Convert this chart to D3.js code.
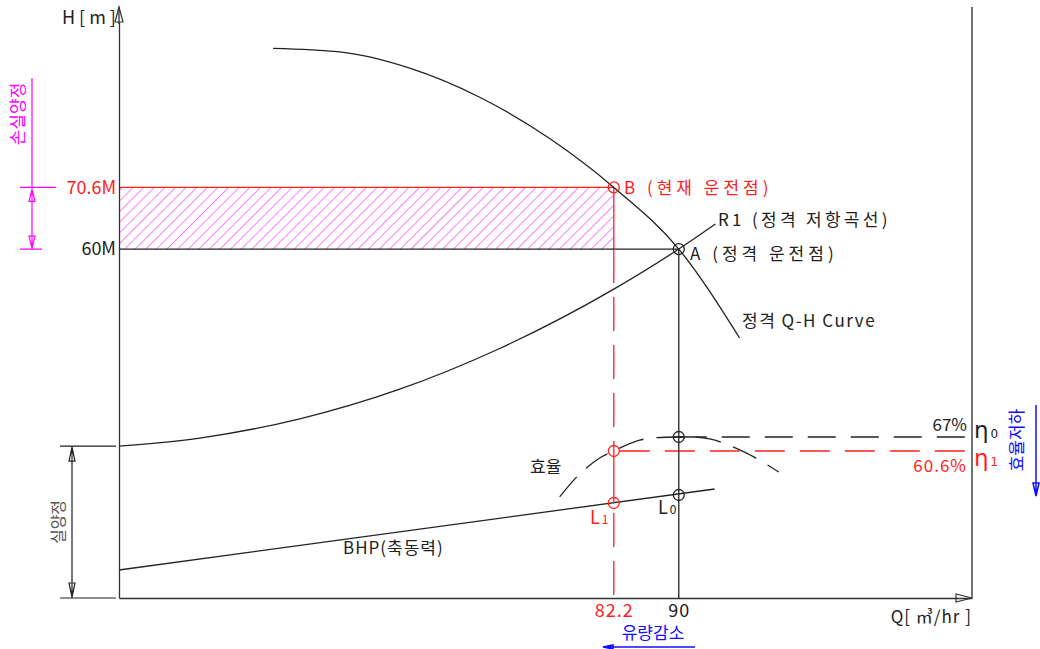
<!DOCTYPE html>
<html>
<head>
<meta charset="utf-8">
<script src="https://cdn.jsdelivr.net/npm/d3@7"></script>
<style>
  body { margin: 0; background: #fff; }
  text { font-family: "Noto Sans CJK KR", "Noto Sans", sans-serif; }
</style>
</head>
<body>
<div id="chart"></div>
<script>
// Values
const qhQ = [41.3, 49.3, 57.7, 66.1, 74.5, 82.2, 90, 97.3];
const qhH = [94.5, 93.9, 91.1, 86.1, 79.0, 70.6, 60, 44.7];
const sysQ = [22.8, 32.5, 44.5, 56.5, 68.5, 82.2, 90, 94.4];
const sysH = [26.1, 27.5, 30.8, 35.9, 42.9, 53.1, 60, 64.3];
const effQ = [75.7, 78.1, 80.5, 82.2, 85.3, 90, 93.7, 97.9, 102];
const effV = [39.6, 50.1, 57.4, 60.6, 65.6, 67, 66.1, 60.1, 51.0];
const bhpQ = [22.8, 94.3];
const bhpV = [5.6, 21.8];
const qTicks = [82.2, 90];          // current, rated flow
const hTicks = [60, 70.6];          // rated, current head
const effMarks = [67, 60.6];        // rated, current efficiency
const bhpMarks = [19.0, 20.6];      // L1, L0

const RED = "#ff2020", MAG = "#ff00ff", BLUE = "#1010ff", INK = "#222";

// Set the dimensions and margins of the graph
const margin = { top: 10, right: 68, bottom: 51, left: 119 };
const width = 1040 - margin.left - margin.right;
const height = 649 - margin.top - margin.bottom;

const root = d3.select("#chart")
  .append("svg")
  .attr("width", width + margin.left + margin.right)
  .attr("height", height + margin.top + margin.bottom);

const svg = root.append("g")
  .attr("transform", `translate(${margin.left},${margin.top})`);

// hatch pattern for the head-loss band
const defs = root.append("defs");
defs.append("pattern")
  .attr("id", "hatch")
  .attr("patternUnits", "userSpaceOnUse")
  .attr("width", 7.5).attr("height", 7.5)
  .attr("patternTransform", "rotate(45)")
  .append("line")
  .attr("x1", 0).attr("y1", 0).attr("x2", 0).attr("y2", 7.5)
  .attr("stroke", MAG).attr("stroke-width", 1);

// Scales
const x = d3.scaleLinear().domain([22.8, 125.2]).range([0, width]);
const y = d3.scaleLinear().domain([0, 101.1]).range([height, 0]);
const effY = d3.scaleLinear().domain([60.6, 67]).range([441, 427]);
const bhpY = d3.scaleLinear().domain([0, 40]).range([height, height - 200]);

// hatched band between rated and current head
svg.append("rect")
  .attr("x", 0).attr("y", y(hTicks[1]))
  .attr("width", x(qTicks[0])).attr("height", y(hTicks[0]) - y(hTicks[1]))
  .attr("fill", "url(#hatch)");
svg.append("line")
  .attr("x1", 0).attr("x2", x(qTicks[0]))
  .attr("y1", y(hTicks[1])).attr("y2", y(hTicks[1]))
  .attr("stroke", RED).attr("stroke-width", 1.3);
svg.append("line")
  .attr("x1", x(qTicks[0])).attr("x2", x(qTicks[0]))
  .attr("y1", y(hTicks[1])).attr("y2", y(hTicks[0]))
  .attr("stroke", RED).attr("stroke-width", 1.3);
svg.append("line")
  .attr("x1", 0).attr("x2", x(qTicks[1]))
  .attr("y1", y(hTicks[0])).attr("y2", y(hTicks[0]))
  .attr("stroke", INK).attr("stroke-width", 1.3);

// Axes
const xAxis = svg.append("g")
  .attr("transform", `translate(0,${height})`)
  .call(d3.axisBottom(x).tickValues(qTicks).tickSize(0).tickSizeOuter(0).tickPadding(6).tickFormat(d => d));
const yAxis = svg.append("g")
  .call(d3.axisLeft(y).tickValues(hTicks).tickSize(0).tickSizeOuter(0).tickPadding(3).tickFormat(d => d + "M"));

[xAxis, yAxis].forEach(a => {
  a.select(".domain").attr("stroke", "#333").attr("stroke-width", 1.3);
  a.selectAll("text")
    .attr("font-family", "'Noto Sans CJK KR', sans-serif")
    .attr("font-size", 18)
    .attr("fill", d => (d === qTicks[0] || d === hTicks[1]) ? RED : INK);
});
xAxis.selectAll("text").attr("letter-spacing", 1);

// axis arrows and right frame line
svg.append("path")
  .attr("d", `M0,-3 L-4,12 L4,12 Z`)
  .attr("fill", "#fff").attr("stroke", "#333").attr("stroke-width", 1.2);
svg.append("line")
  .attr("x1", 0).attr("x2", 0).attr("y1", -3).attr("y2", 14)
  .attr("stroke", "#333").attr("stroke-width", 1.3);
svg.append("path")
  .attr("d", `M${width},${height} L${width - 16},${height - 4} L${width - 16},${height + 4} Z`)
  .attr("fill", "none").attr("stroke", "#333").attr("stroke-width", 1.2);
svg.append("line")
  .attr("x1", width).attr("x2", width).attr("y1", -3).attr("y2", height)
  .attr("stroke", "#444").attr("stroke-width", 1.5);

// Q-H curve and system resistance curve
const qhLine = d3.line().x(d => x(d[0])).y(d => y(d[1])).curve(d3.curveMonotoneX);
svg.append("path")
  .datum(qhQ.map((q, i) => [q, qhH[i]]))
  .attr("d", qhLine)
  .attr("fill", "none").attr("stroke", INK).attr("stroke-width", 1.3);
svg.append("path")
  .datum(sysQ.map((q, i) => [q, sysH[i]]))
  .attr("d", qhLine)
  .attr("fill", "none").attr("stroke", INK).attr("stroke-width", 1.3);

// efficiency curve (dashed)
const effLine = d3.line().x(d => x(d[0])).y(d => effY(d[1])).curve(d3.curveCatmullRom);
svg.append("path")
  .datum(effQ.map((q, i) => [q, effV[i]]))
  .attr("d", effLine)
  .attr("fill", "none").attr("stroke", INK).attr("stroke-width", 1.3)
  .attr("stroke-dasharray", "26,13");

// BHP line
svg.append("path")
  .datum(bhpQ.map((q, i) => [q, bhpV[i]]))
  .attr("d", d3.line().x(d => x(d[0])).y(d => bhpY(d[1])))
  .attr("fill", "none").attr("stroke", INK).attr("stroke-width", 1.3);

// efficiency levels
svg.append("line")
  .attr("x1", x(qTicks[1])).attr("x2", width)
  .attr("y1", effY(effMarks[0])).attr("y2", effY(effMarks[0]))
  .attr("stroke", INK).attr("stroke-width", 1.3).attr("stroke-dasharray", "28,15");
svg.append("line")
  .attr("x1", x(qTicks[0]) + 6).attr("x2", width)
  .attr("y1", effY(effMarks[1])).attr("y2", effY(effMarks[1]))
  .attr("stroke", RED).attr("stroke-width", 1.3).attr("stroke-dasharray", "30,15");

// rated flow vertical
svg.append("line")
  .attr("x1", x(qTicks[1])).attr("x2", x(qTicks[1]))
  .attr("y1", y(hTicks[0])).attr("y2", height)
  .attr("stroke", INK).attr("stroke-width", 1.3);

// current flow vertical (red)
const xq = x(qTicks[0]);
svg.append("line")
  .attr("x1", xq).attr("x2", xq).attr("y1", y(hTicks[0])).attr("y2", effY(effMarks[1]))
  .attr("stroke", RED).attr("stroke-width", 1.3).attr("stroke-dasharray", "34,14");
svg.append("line")
  .attr("x1", xq).attr("x2", xq).attr("y1", effY(effMarks[1])).attr("y2", bhpY(bhpMarks[0]))
  .attr("stroke", RED).attr("stroke-width", 1.3);
svg.append("line")
  .attr("x1", xq).attr("x2", xq).attr("y1", bhpY(bhpMarks[0]) + 10).attr("y2", height)
  .attr("stroke", RED).attr("stroke-width", 1.3).attr("stroke-dasharray", "34,14");

// operating point markers
const marks = [
  { q: qTicks[0], py: y(hTicks[1]), c: RED },
  { q: qTicks[1], py: y(hTicks[0]), c: INK },
  { q: qTicks[1], py: effY(effMarks[0]), c: INK },
  { q: qTicks[0], py: effY(effMarks[1]), c: RED },
  { q: qTicks[1], py: bhpY(bhpMarks[1]), c: INK },
  { q: qTicks[0], py: bhpY(bhpMarks[0]), c: RED }
];
svg.selectAll(".mark")
  .data(marks)
  .join("circle")
  .attr("class", "mark")
  .attr("cx", d => x(d.q)).attr("cy", d => d.py).attr("r", 5.5)
  .attr("fill", "none").attr("stroke", d => d.c).attr("stroke-width", 1.3);
svg.append("line")
  .attr("x1", x(qTicks[1]) - 5).attr("x2", x(qTicks[1]) + 5)
  .attr("y1", effY(effMarks[0])).attr("y2", effY(effMarks[0]))
  .attr("stroke", INK).attr("stroke-width", 1.3);

// Labels
function label(tx, ty, str, opts = {}) {
  return root.append("text")
    .attr("x", tx).attr("y", ty)
    .attr("font-size", opts.size || 17)
    .attr("fill", opts.color || INK)
    .attr("letter-spacing", opts.ls || 0)
    .attr("text-anchor", opts.anchor || "start")
    .attr("transform", opts.rotate ? `rotate(-90,${tx},${ty})` : null)
    .text(str);
}
label(62, 24, "H[m]", { size: 18, ls: 4 });
label(624, 194, "B (현재 운전점)", { color: RED, ls: 4 });
label(690, 260, "A (정격 운전점)", { ls: 4 });
label(718, 226, "R1 (정격 저항곡선)", { ls: 3.3 });
label(742, 327, "정격 Q-H Curve", { ls: 1.5 });
label(343, 554, "BHP(축동력)", { ls: 1 });
label(530, 473, "효율");
label(967, 431, "67%", { anchor: "end" });
label(967, 472, "60.6%", { color: RED, anchor: "end", ls: 1 });
label(972, 623, "Q[ ㎥/hr ]", { anchor: "end", ls: 1 });
label(653, 639, "유량감소", { color: BLUE, anchor: "middle" });

// subscripted symbols
function sub(tx, ty, main, s, color, size, ssize, font) {
  const t = root.append("text").attr("x", tx).attr("y", ty).attr("fill", color)
    .attr("font-size", size);
  if (font) t.style("font-family", font);
  t.append("tspan").text(main);
  t.append("tspan").attr("dx", 2).attr("font-size", ssize).text(s);
}
sub(974, 438, "η", "0", INK, 23, 12, "'DejaVu Sans', sans-serif");
sub(974, 466, "η", "1", RED, 23, 12, "'DejaVu Sans', sans-serif");
sub(590, 524, "L", "1", RED, 18, 12);
sub(658, 514, "L", "0", INK, 18, 12);

// vertical annotation texts
label(24, 114, "손실양정", { color: MAG, anchor: "middle", rotate: true });
label(64, 522, "실양정", { color: "#555", anchor: "middle", rotate: true, size: 16 });
label(1023, 440, "효율저하", { color: BLUE, anchor: "middle", rotate: true });

// dimension marks
const ann = root.append("g").attr("fill", "none").attr("stroke-width", 1.2);
const yTop = y(hTicks[1]) + margin.top, yMid = y(hTicks[0]) + margin.top;
ann.append("path").attr("stroke", MAG)
  .attr("d", `M32,78 L32,${yMid} M20,${yTop} L56,${yTop} M20,${yMid} L42,${yMid}
    M32,${yTop + 2} L29,${yTop + 14} L35,${yTop + 14} Z
    M32,${yMid - 1} L29,${yMid - 13} L35,${yMid - 13} Z`);
const ySt = y(sysH[0]) + margin.top, yBot = height + margin.top;
ann.append("path").attr("stroke", INK)
  .attr("d", `M72,${ySt} L72,${yBot} M60,${ySt} L116,${ySt} M60,${yBot} L116,${yBot}
    M72,${ySt + 1} L69,${ySt + 15} L75,${ySt + 15} Z
    M72,${yBot - 1} L69,${yBot - 15} L75,${yBot - 15} Z`);
ann.append("path").attr("stroke", BLUE).attr("stroke-width", 1.5)
  .attr("d", `M1036,405 L1036,496 M1036,496 L1033,483 L1039,483 Z
    M603,647 L695,647 M603,647 L613,645 L613,649 Z`);
</script>
</body>
</html>
